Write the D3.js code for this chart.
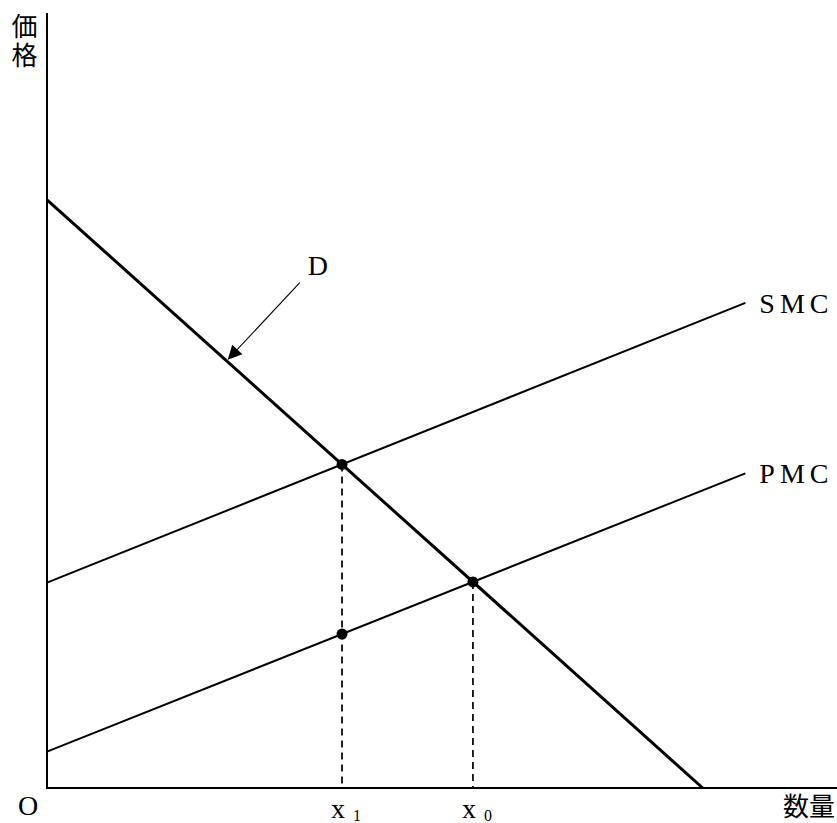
<!DOCTYPE html>
<html lang="ja">
<head>
<meta charset="utf-8">
<title>SMC PMC</title>
<style>
  body { margin: 0; background: #fff; }
  svg text { fill: #000; }
  .serif { font-family: "Liberation Serif", "DejaVu Serif", serif; }
  .cjk { font-family: "Noto Sans CJK JP", sans-serif; }
</style>
</head>
<body>
<script src="https://cdn.jsdelivr.net/npm/d3@7"></script>
<script>

// curves as [quantity, price] end points, data units 0-100
var demand = [[0, 75.9], [83.0, 0]];
var smc = [[0, 26.5], [88.4, 62.6]];
var pmc = [[0, 4.7], [88.4, 40.6]];

var curveNames = ["SMC", "PMC"];
var qLabels = ["1", "0"]; // subscripts of x
var axisLabels = { x: "数量", y: "価格", origin: "O" };

// D label arrow: [from, to] in data units
var dArrow = [[32.0, 65.2], [23.0, 55.4]];
var dLabel = [33.0, 66.2];

var w = 837;
var h = 823;

var x = d3.scaleLinear().domain([0, 100]).range([47, 837]);
var y = d3.scaleLinear().domain([0, 100]).range([788, 13]);

var svg = d3.select("body").append("svg")
  .attr("width", w)
  .attr("height", h);

svg.append("defs").append("marker")
  .attr("id", "arrow")
  .attr("viewBox", "0 0 10 10")
  .attr("refX", 9)
  .attr("refY", 5)
  .attr("markerWidth", 18)
  .attr("markerHeight", 14)
  .attr("markerUnits", "userSpaceOnUse")
  .attr("orient", "auto")
  .append("path")
  .attr("d", "M0,0 L10,5 L0,10 Z")
  .attr("fill", "#000");

// intersection of two segments (as infinite lines)
function cross(a, b) {
  var m1 = (a[1][1] - a[0][1]) / (a[1][0] - a[0][0]);
  var m2 = (b[1][1] - b[0][1]) / (b[1][0] - b[0][0]);
  var c1 = a[0][1] - m1 * a[0][0];
  var c2 = b[0][1] - m2 * b[0][0];
  var q = (c2 - c1) / (m1 - m2);
  return [q, m1 * q + c1];
}
function at(seg, q) {
  var m = (seg[1][1] - seg[0][1]) / (seg[1][0] - seg[0][0]);
  return [q, seg[0][1] + m * (q - seg[0][0])];
}

var e1 = cross(demand, smc);
var e0 = cross(demand, pmc);
var p1 = at(pmc, e1[0]);

var line = d3.line().x(function(d){ return x(d[0]); }).y(function(d){ return y(d[1]); });

// axes
svg.append("path")
  .attr("d", line([[0, 100], [0, 0], [100, 0]]))
  .attr("fill", "none")
  .attr("stroke", "#000")
  .attr("stroke-width", 2);

// dashed drops
svg.selectAll(".drop")
  .data([e1, e0])
  .enter().append("line")
  .attr("class", "drop")
  .attr("x1", function(d){ return x(d[0]); })
  .attr("x2", function(d){ return x(d[0]); })
  .attr("y1", function(d){ return y(d[1]); })
  .attr("y2", y(0))
  .attr("stroke", "#000")
  .attr("stroke-width", 1.7)
  .attr("stroke-dasharray", "7,5");

// cost curves
svg.selectAll(".cost")
  .data([smc, pmc])
  .enter().append("path")
  .attr("class", "cost")
  .attr("d", line)
  .attr("fill", "none")
  .attr("stroke", "#000")
  .attr("stroke-width", 2);

// demand
svg.append("path")
  .attr("d", line(demand))
  .attr("fill", "none")
  .attr("stroke", "#000")
  .attr("stroke-width", 3);

// points
svg.selectAll(".pt")
  .data([e1, e0, p1])
  .enter().append("circle")
  .attr("class", "pt")
  .attr("cx", function(d){ return x(d[0]); })
  .attr("cy", function(d){ return y(d[1]); })
  .attr("r", 5.5)
  .attr("fill", "#000");

// curve labels
svg.selectAll(".clabel")
  .data([smc, pmc])
  .enter().append("text")
  .attr("class", "clabel serif")
  .attr("x", function(d){ return x(d[1][0]) + 14; })
  .attr("y", function(d){ return y(d[1][1]) + 10; })
  .attr("font-size", 28)
  .attr("letter-spacing", 5)
  .text(function(d, i){ return curveNames[i]; });

// D annotation
svg.append("path")
  .attr("d", line(dArrow))
  .attr("stroke", "#000")
  .attr("stroke-width", 1.1)
  .attr("marker-end", "url(#arrow)");
svg.append("text")
  .attr("class", "serif")
  .attr("x", x(dLabel[0]))
  .attr("y", y(dLabel[1]))
  .attr("font-size", 28)
  .text("D");

// quantity labels
var ql = svg.selectAll(".qlabel")
  .data([e1, e0])
  .enter().append("text")
  .attr("class", "qlabel serif")
  .attr("x", function(d){ return x(d[0]) - 11; })
  .attr("y", 818)
  .attr("font-size", 28);
ql.append("tspan").text("x");
ql.append("tspan")
  .attr("dx", 8)
  .attr("dy", 3)
  .attr("font-size", 16)
  .text(function(d, i){ return qLabels[i]; });

// origin, axis titles
svg.append("text")
  .attr("class", "serif")
  .attr("x", x(0) - 29)
  .attr("y", 815)
  .attr("font-size", 28)
  .text(axisLabels.origin);

svg.append("text")
  .attr("class", "cjk")
  .attr("x", w - 2)
  .attr("y", 816)
  .attr("text-anchor", "end")
  .attr("font-size", 26)
  .text(axisLabels.x);

svg.append("text")
  .attr("class", "cjk")
  .attr("x", 24.5)
  .attr("y", 13)
  .attr("writing-mode", "vertical-rl")
  .attr("letter-spacing", 3)
  .attr("font-size", 26)
  .text(axisLabels.y);

</script>
</body>
</html>
